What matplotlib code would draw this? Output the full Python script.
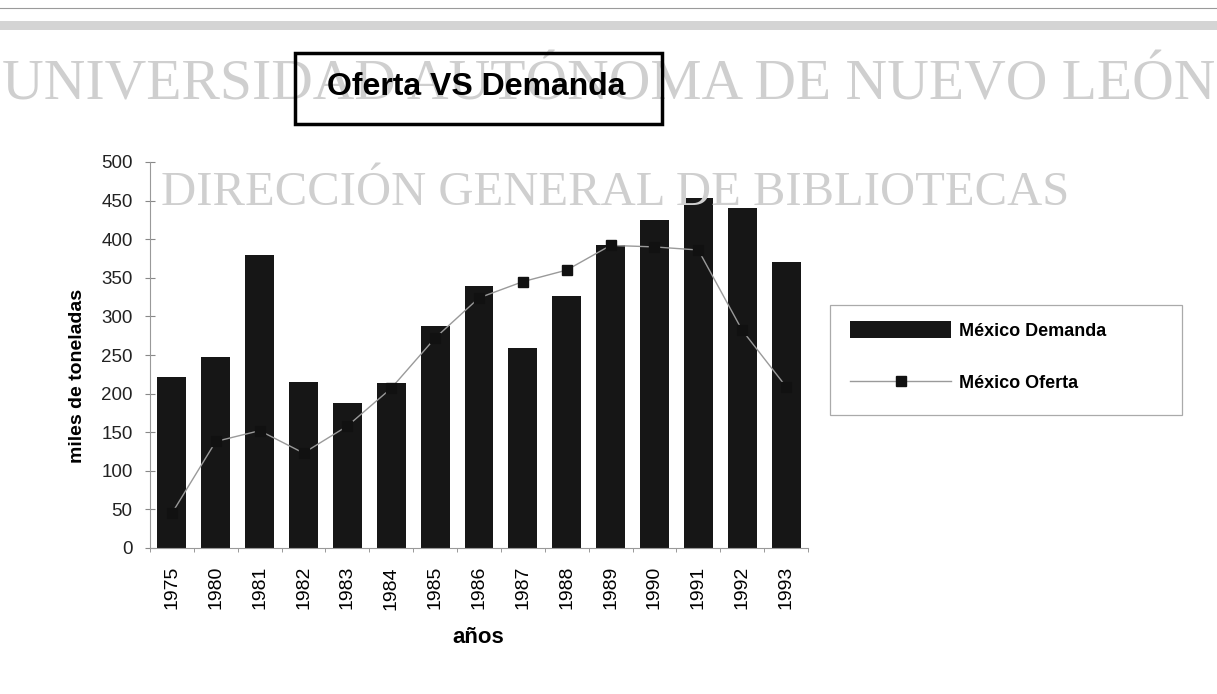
import numpy as np
import matplotlib.pyplot as plt
from matplotlib.patches import Rectangle
from matplotlib.lines import Line2D

# data
years = ['1975', '1980', '1981', '1982', '1983', '1984', '1985', '1986',
         '1987', '1988', '1989', '1990', '1991', '1992', '1993']
demanda = [221, 248, 380, 215, 188, 214, 288, 339, 259, 326, 392, 425, 454, 440, 370]
oferta = [45, 138, 152, 123, 158, 207, 272, 324, 345, 360, 392, 390, 386, 282, 209]
y_ticks = [0, 50, 100, 150, 200, 250, 300, 350, 400, 450, 500]

W, H = 1217, 694
fig = plt.figure(figsize=(W / 100, H / 100), dpi=100)
fig.patch.set_facecolor('white')

# axes placed in pixel terms of the reference
left, right, bottom, top = 150, 808, 548, 162
ax = fig.add_axes([left / W, 1 - bottom / H, (right - left) / W, (bottom - top) / H])
ax.set_facecolor('none')

# watermark of the scan, behind everything
fig.text(0.5, 1 - 86 / H, 'UNIVERSIDAD AUTÓNOMA DE NUEVO LEÓN', family='Liberation Serif',
         fontsize=41.5, color='#cfcfcf', ha='center', va='center', zorder=0)
fig.text(615 / W, 1 - 193 / H, 'DIRECCIÓN GENERAL DE BIBLIOTECAS', family='Liberation Serif',
         fontsize=35, color='#cfcfcf', ha='center', va='center', zorder=0)

x = np.arange(len(years))
bars = ax.bar(x, demanda, width=0.66, color='#161616', zorder=2, label='México Demanda')
line, = ax.plot(x, oferta, color='#9a9a9a', lw=1.0, marker='s', markersize=7,
                markerfacecolor='#111111', markeredgecolor='#111111', zorder=3,
                label='México Oferta')

ax.set_xlim(-0.5, len(years) - 0.5)
ax.set_ylim(0, 500)
ax.set_yticks(y_ticks)
ax.set_xticks(x)
ax.set_xticklabels(years, rotation=90, family='Liberation Sans', fontsize=14)
ax.set_xticks(np.arange(-0.5, len(years), 1), minor=True)
ax.tick_params(axis='x', which='major', length=0, pad=13)
ax.tick_params(axis='x', which='minor', length=3, color='#888888', direction='out')
ax.tick_params(axis='y', length=7, color='#888888', direction='inout', labelsize=13.5, pad=9)
for lab in ax.get_yticklabels():
    lab.set_family('Liberation Sans')
    lab.set_color('#222222')

for s in ['top', 'right']:
    ax.spines[s].set_visible(False)
ax.spines['left'].set_color('#999999')
ax.spines['bottom'].set_color('#999999')
ax.spines['left'].set_linewidth(0.8)
ax.spines['bottom'].set_linewidth(0.8)

ax.set_ylabel('miles de toneladas', family='Liberation Sans', fontweight='bold', fontsize=14)
ax.yaxis.set_label_coords(-0.097, 0.446)
ax.set_xlabel('años', family='Liberation Sans', fontweight='bold', fontsize=16)
ax.xaxis.set_label_coords(0.4985, -0.205)

# legend: frame drawn separately to match the box of the reference
fig.add_artist(Rectangle((830 / W, 1 - 415 / H), (1182 - 830) / W, (415 - 305) / H,
                         transform=fig.transFigure, fill=False, edgecolor='#aaaaaa', lw=0.9))
ax.legend(handles=[bars, line], loc='upper left',
          bbox_to_anchor=(850 / W, 1 - 321 / H), bbox_transform=fig.transFigure,
          frameon=False, handlelength=5.6, handleheight=1.1, labelspacing=1.85,
          borderpad=0, borderaxespad=0, handletextpad=0.45,
          prop={'family': 'Liberation Sans', 'weight': 'bold', 'size': 13})

# title box
fig.add_artist(Rectangle((295 / W, 1 - 124 / H), (662 - 295) / W, (124 - 53) / H,
                         transform=fig.transFigure, fill=False, edgecolor='black', lw=2.5))
fig.text(476 / W, 1 - 87 / H, 'Oferta VS Demanda', family='Liberation Sans', fontweight='bold',
         fontsize=23, ha='center', va='center')

# scan rules at the top
fig.add_artist(Line2D([0, 1], [1 - 8 / H, 1 - 8 / H], transform=fig.transFigure,
                      color='#9a9a9a', lw=0.8))
fig.add_artist(Rectangle((0, 1 - 30 / H), 1, 9 / H, transform=fig.transFigure,
                         color='#d4d4d4', lw=0))

fig.savefig('out.png', dpi=100)
